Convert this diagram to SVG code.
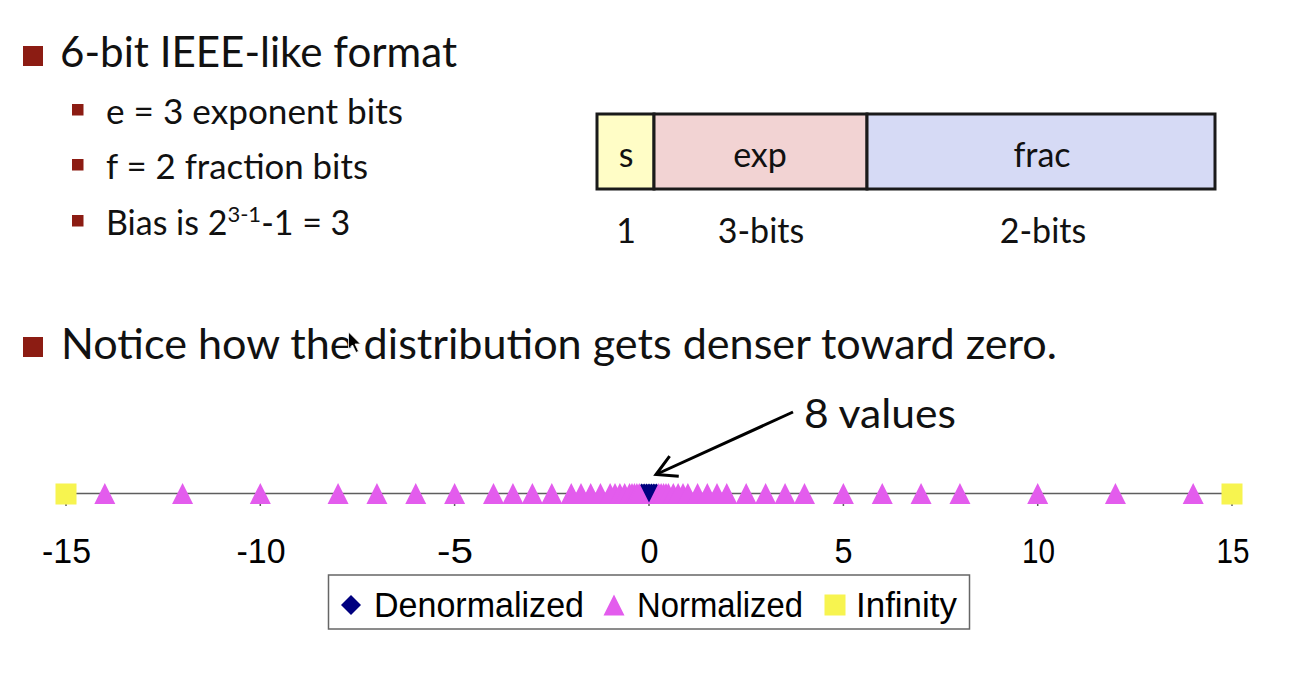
<svg xmlns="http://www.w3.org/2000/svg" xmlns:xlink="http://www.w3.org/1999/xlink" width="1308" height="674" viewBox="0 0 1308 674">
  <style>
    .slide { font-family: Lato, "Open Sans", "Liberation Sans", sans-serif; fill: #111; }
    .chart { font-family: "Liberation Sans", Arial, sans-serif; fill: #000; }
    .bullet { fill: #8c1c13; }
    .field { stroke: #1a1a1a; stroke-width: 3; }
    .tri { fill: #e35ced; }
    .dia { fill: #00007f; }
    .inf { fill: #f7f44f; }
    .axis { stroke: #5e5e5e; stroke-width: 1.5; fill: none; }
  </style>
  <defs>
    <path id="tri" d="M0,-10.5 L10.5,10.5 L-10.5,10.5 Z"/>
    <path id="dia" d="M0,-10 L10,0 L0,10 L-10,0 Z"/>
    <rect id="sq" x="-10.5" y="-10.5" width="21" height="21"/>
    <marker id="openArrow" viewBox="0 0 26 26" refX="23" refY="13" markerWidth="26" markerHeight="26" markerUnits="userSpaceOnUse" orient="auto">
      <path d="M3,2 L23,13 L3,24" fill="none" stroke="#000" stroke-width="3" stroke-linejoin="miter"/>
    </marker>
  </defs>
  <rect width="1308" height="674" fill="#ffffff"/>

  <g id="bullet-format">
    <rect class="bullet" x="23" y="46" width="20" height="20"/>
    <text class="slide" x="60" y="67" font-size="42" textLength="397" lengthAdjust="spacingAndGlyphs">6-bit IEEE-like format</text>
  </g>
  <g id="sub-bullets">
    <rect class="bullet" x="72" y="104" width="11.5" height="11.5"/>
    <text class="slide" x="106" y="124" font-size="34" textLength="297" lengthAdjust="spacingAndGlyphs">e = 3 exponent bits</text>
    <rect class="bullet" x="72" y="159" width="11.5" height="11.5"/>
    <text class="slide" x="106" y="179" font-size="34" textLength="262" lengthAdjust="spacingAndGlyphs">f = 2 fraction bits</text>
    <rect class="bullet" x="72" y="215" width="11.5" height="11.5"/>
    <text class="slide" x="106" y="235" font-size="34">Bias is 2<tspan font-size="22" dy="-13">3-1</tspan><tspan dy="13">-1 = 3</tspan></text>
  </g>

  <g id="bit-layout">
    <rect class="field" x="597" y="114" width="57" height="75" fill="#fffdc6"/>
    <rect class="field" x="654" y="114" width="213" height="75" fill="#f2d3d3"/>
    <rect class="field" x="867" y="114" width="348" height="75" fill="#d6daf5"/>
    <text class="slide" x="626" y="167" font-size="34" text-anchor="middle">s</text>
    <text class="slide" x="760" y="167" font-size="34" text-anchor="middle">exp</text>
    <text class="slide" x="1042" y="167" font-size="34" text-anchor="middle">frac</text>
    <text class="slide" x="626" y="243" font-size="34" text-anchor="middle">1</text>
    <text class="slide" x="761" y="243" font-size="34" text-anchor="middle">3-bits</text>
    <text class="slide" x="1043" y="243" font-size="34" text-anchor="middle">2-bits</text>
  </g>

  <g id="bullet-notice">
    <rect class="bullet" x="23" y="337" width="20" height="20"/>
    <text class="slide" x="61" y="359" font-size="42" textLength="996" lengthAdjust="spacingAndGlyphs">Notice how the distribution gets denser toward zero.</text>
  </g>

  <g id="cursor">
    <path d="M348.5,332 L348.5,349 L352.5,345 L356,352.5 L358.5,351.3 L355,344 L360.5,344 Z" fill="#000" stroke="#fff" stroke-width="0.8"/>
  </g>

  <g id="annotation">
    <text class="slide" x="804" y="428" font-size="41" textLength="152" lengthAdjust="spacingAndGlyphs">8 values</text>
  </g>

  <g id="connectors">
    <line x1="793" y1="412" x2="656" y2="474.5" stroke="#000" stroke-width="3" marker-end="url(#openArrow)"/>
  </g>

  <g id="chart">
    <g id="axis">
      <line class="axis" x1="66" y1="493.5" x2="1232" y2="493.5"/>
      <path class="axis" d="M66,493.5V506 M260.3,493.5V506 M454.6,493.5V506 M649,493.5V506 M843.4,493.5V506 M1037.7,493.5V506 M1232,493.5V506"/>
    </g>
    <g id="series-denormalized" class="dia">
      <use xlink:href="#dia" x="641.71" y="493.5"/>
      <use xlink:href="#dia" x="644.14" y="493.5"/>
      <use xlink:href="#dia" x="646.57" y="493.5"/>
      <use xlink:href="#dia" x="651.43" y="493.5"/>
      <use xlink:href="#dia" x="653.86" y="493.5"/>
      <use xlink:href="#dia" x="656.29" y="493.5"/>
      <use xlink:href="#dia" x="649" y="493.5"/>
    </g>
    <g id="series-normalized" class="tri">
      <use xlink:href="#tri" x="104.82" y="493.5"/>
      <use xlink:href="#tri" x="182.56" y="493.5"/>
      <use xlink:href="#tri" x="260.3" y="493.5"/>
      <use xlink:href="#tri" x="338.04" y="493.5"/>
      <use xlink:href="#tri" x="376.91" y="493.5"/>
      <use xlink:href="#tri" x="415.78" y="493.5"/>
      <use xlink:href="#tri" x="454.65" y="493.5"/>
      <use xlink:href="#tri" x="493.52" y="493.5"/>
      <use xlink:href="#tri" x="512.95" y="493.5"/>
      <use xlink:href="#tri" x="532.39" y="493.5"/>
      <use xlink:href="#tri" x="551.82" y="493.5"/>
      <use xlink:href="#tri" x="571.26" y="493.5"/>
      <use xlink:href="#tri" x="580.98" y="493.5"/>
      <use xlink:href="#tri" x="590.69" y="493.5"/>
      <use xlink:href="#tri" x="600.41" y="493.5"/>
      <use xlink:href="#tri" x="610.13" y="493.5"/>
      <use xlink:href="#tri" x="614.99" y="493.5"/>
      <use xlink:href="#tri" x="619.85" y="493.5"/>
      <use xlink:href="#tri" x="624.71" y="493.5"/>
      <use xlink:href="#tri" x="629.56" y="493.5"/>
      <use xlink:href="#tri" x="631.99" y="493.5"/>
      <use xlink:href="#tri" x="634.42" y="493.5"/>
      <use xlink:href="#tri" x="636.85" y="493.5"/>
      <use xlink:href="#tri" x="639.28" y="493.5"/>
      <use xlink:href="#tri" x="658.72" y="493.5"/>
      <use xlink:href="#tri" x="661.15" y="493.5"/>
      <use xlink:href="#tri" x="663.58" y="493.5"/>
      <use xlink:href="#tri" x="666.01" y="493.5"/>
      <use xlink:href="#tri" x="668.44" y="493.5"/>
      <use xlink:href="#tri" x="673.29" y="493.5"/>
      <use xlink:href="#tri" x="678.15" y="493.5"/>
      <use xlink:href="#tri" x="683.01" y="493.5"/>
      <use xlink:href="#tri" x="687.87" y="493.5"/>
      <use xlink:href="#tri" x="697.59" y="493.5"/>
      <use xlink:href="#tri" x="707.31" y="493.5"/>
      <use xlink:href="#tri" x="717.02" y="493.5"/>
      <use xlink:href="#tri" x="726.74" y="493.5"/>
      <use xlink:href="#tri" x="746.18" y="493.5"/>
      <use xlink:href="#tri" x="765.61" y="493.5"/>
      <use xlink:href="#tri" x="785.05" y="493.5"/>
      <use xlink:href="#tri" x="804.48" y="493.5"/>
      <use xlink:href="#tri" x="843.35" y="493.5"/>
      <use xlink:href="#tri" x="882.22" y="493.5"/>
      <use xlink:href="#tri" x="921.09" y="493.5"/>
      <use xlink:href="#tri" x="959.96" y="493.5"/>
      <use xlink:href="#tri" x="1037.7" y="493.5"/>
      <use xlink:href="#tri" x="1115.44" y="493.5"/>
      <use xlink:href="#tri" x="1193.18" y="493.5"/>
    </g>
    <g id="series-infinity" class="inf">
      <use xlink:href="#sq" x="66" y="494"/>
      <use xlink:href="#sq" x="1232" y="494"/>
    </g>
    <g id="axis-labels" class="chart" font-size="35" text-anchor="middle">
      <text x="66.5" y="563" textLength="49" lengthAdjust="spacingAndGlyphs">-15</text>
      <text x="261" y="563" textLength="49" lengthAdjust="spacingAndGlyphs">-10</text>
      <text x="455" y="563" textLength="36" lengthAdjust="spacingAndGlyphs">-5</text>
      <text x="649.5" y="563" textLength="18" lengthAdjust="spacingAndGlyphs">0</text>
      <text x="843.5" y="563" textLength="18" lengthAdjust="spacingAndGlyphs">5</text>
      <text x="1038.5" y="563" textLength="33" lengthAdjust="spacingAndGlyphs">10</text>
      <text x="1233" y="563" textLength="33" lengthAdjust="spacingAndGlyphs">15</text>
    </g>
    <g id="legend">
      <rect x="328.5" y="575" width="641" height="54" fill="#fff" stroke="#666" stroke-width="1.5"/>
      <use xlink:href="#dia" x="351" y="605" class="dia"/>
      <text class="chart" x="374" y="617" font-size="35" textLength="210" lengthAdjust="spacingAndGlyphs">Denormalized</text>
      <use xlink:href="#tri" x="614" y="605" class="tri"/>
      <text class="chart" x="637" y="617" font-size="35" textLength="166" lengthAdjust="spacingAndGlyphs">Normalized</text>
      <use xlink:href="#sq" x="835" y="605" class="inf"/>
      <text class="chart" x="856" y="617" font-size="35" textLength="101" lengthAdjust="spacingAndGlyphs">Infinity</text>
    </g>
  </g>
</svg>
